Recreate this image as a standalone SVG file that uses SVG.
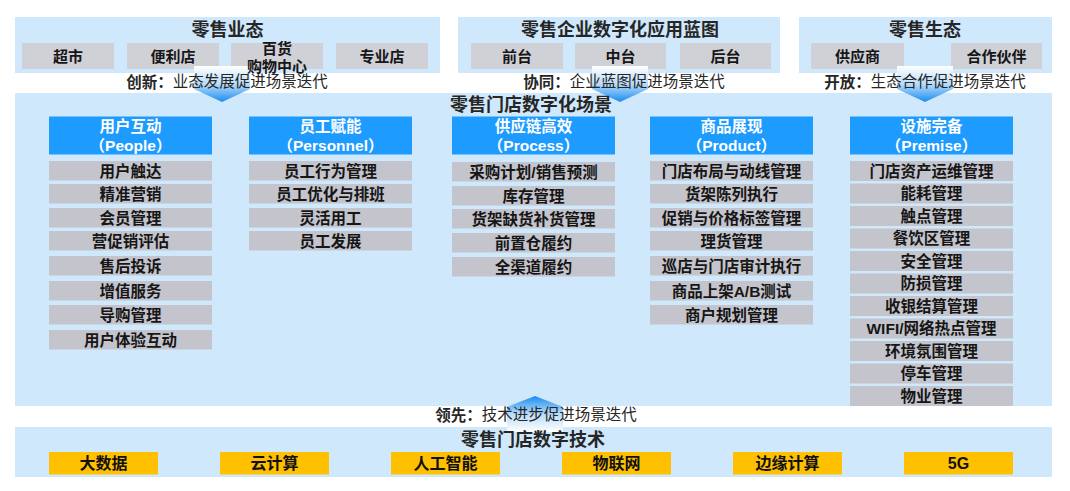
<svg xmlns="http://www.w3.org/2000/svg" width="1070" height="491" viewBox="0 0 1070 491">
<defs>
<linearGradient id="gDown" x1="0" y1="0" x2="0" y2="1">
<stop offset="0" stop-color="#FFFFFF"/>
<stop offset="0.5" stop-color="#B8DCFA"/>
<stop offset="1" stop-color="#1A8CF0"/>
</linearGradient>
<linearGradient id="gUp" x1="0" y1="1" x2="0" y2="0">
<stop offset="0" stop-color="#FFFFFF"/>
<stop offset="0.5" stop-color="#B8DCFA"/>
<stop offset="1" stop-color="#1A8CF0"/>
</linearGradient>
<style>
text{font-family:"Liberation Sans","Noto Sans CJK SC",sans-serif;dominant-baseline:central;text-anchor:middle;fill:#161616}
.panel{fill:#CFE8FB}
.sub{fill:#D0D0D7}
.item{fill:#C4C4CC}
.hdr{fill:#1E9BFF}
.yel{fill:#FFC000}
.t18{font-size:18px;font-weight:bold;fill:#262626}
.t15{font-size:15px;font-weight:bold}
.it{font-size:15.5px;font-weight:bold}
.ht{font-size:15.5px;font-weight:bold;fill:#FFFFFF}
.lab{font-size:15.5px;fill:#262626}
.lab tspan.b{font-weight:bold}
.yt{font-size:16px;font-weight:bold;fill:#111}
</style>
</defs>
<rect width="1070" height="491" fill="#FFFFFF"/>

<!-- panels -->
<g id="panel-format">
<rect class="panel" x="15" y="17" width="425" height="56"/>
<text class="t18" x="227.5" y="29.5">零售业态</text>
<rect class="sub" x="22" y="43" width="92" height="26"/>
<rect class="sub" x="127" y="43" width="92" height="26"/>
<rect class="sub" x="231" y="43" width="92" height="26"/>
<rect class="sub" x="336" y="43" width="92" height="26"/>
</g>
<g id="panel-blueprint">
<rect class="panel" x="458" y="17" width="322" height="56"/>
<text class="t18" x="620" y="29.5">零售企业数字化应用蓝图</text>
<rect class="sub" x="471" y="43" width="92" height="26"/>
<rect class="sub" x="575" y="43" width="91" height="26"/>
<rect class="sub" x="680" y="43" width="91" height="26"/>
</g>
<g id="panel-eco">
<rect class="panel" x="799" y="17" width="253" height="56"/>
<text class="t18" x="925" y="29.5">零售生态</text>
<rect class="sub" x="811" y="43" width="93" height="26"/>
<rect class="sub" x="951" y="43" width="91" height="26"/>
</g>
<g id="panel-scene">
<rect class="panel" x="15" y="93" width="1037" height="313"/>
</g>
<g id="panel-tech">
<rect class="panel" x="15" y="427" width="1037" height="50"/>
</g>

<!-- connectors (block arrows) -->
<g id="connectors">
<polygon fill="url(#gDown)" points="194,66 250,66 250,89 222,102 194,89"/>
<polygon fill="url(#gDown)" points="592,66 648,66 648,89 620,102 592,89"/>
<polygon fill="url(#gDown)" points="897,66 953,66 953,89 925,102 897,89"/>
<polygon fill="url(#gUp)" points="535,396 563,407 563,432 507,432 507,407"/>
</g>

<!-- top sub box labels -->
<g id="format-items">
<text class="t15" x="68" y="56">超市</text>
<text class="t15" x="173" y="56">便利店</text>
<text class="t15" x="277" y="48">百货</text>
<text class="t15" x="277" y="66">购物中心</text>
<text class="t15" x="382" y="56">专业店</text>
</g>
<g id="blueprint-items">
<text class="t15" x="517" y="56">前台</text>
<text class="t15" x="620.5" y="56">中台</text>
<text class="t15" x="725.5" y="56">后台</text>
</g>
<g id="eco-items">
<text class="t15" x="857.5" y="56">供应商</text>
<text class="t15" x="996.5" y="56">合作伙伴</text>
</g>

<!-- arrow labels -->
<g id="label-innovate"><text class="lab" x="227" y="81.5"><tspan class="b">创新：</tspan>业态发展促进场景迭代</text></g>
<g id="label-cooperate"><text class="lab" x="624" y="81.5"><tspan class="b">协同：</tspan>企业蓝图促进场景迭代</text></g>
<g id="label-open"><text class="lab" x="925" y="81.5"><tspan class="b">开放：</tspan>生态合作促进场景迭代</text></g>

<text class="t18" x="531" y="104.5">零售门店数字化场景</text>

<!-- column 1 -->
<g id="col-people">
<rect class="hdr" x="49" y="116.5" width="163" height="38"/>
<text class="ht" x="130.5" y="126">用户互动</text>
<text class="ht" x="130.5" y="145">（People）</text>
<rect class="item" x="49" y="161" width="163" height="19.5"/><text class="it" x="130.5" y="171">用户触达</text>
<rect class="item" x="49" y="184" width="163" height="19.5"/><text class="it" x="130.5" y="194">精准营销</text>
<rect class="item" x="49" y="208" width="163" height="19.5"/><text class="it" x="130.5" y="218">会员管理</text>
<rect class="item" x="49" y="231" width="163" height="19.5"/><text class="it" x="130.5" y="241">营促销评估</text>
<rect class="item" x="49" y="256" width="163" height="19.5"/><text class="it" x="130.5" y="266">售后投诉</text>
<rect class="item" x="49" y="281" width="163" height="19.5"/><text class="it" x="130.5" y="291">增值服务</text>
<rect class="item" x="49" y="305" width="163" height="19.5"/><text class="it" x="130.5" y="315">导购管理</text>
<rect class="item" x="49" y="330" width="163" height="19.5"/><text class="it" x="130.5" y="340">用户体验互动</text>
</g>

<!-- column 2 -->
<g id="col-personnel">
<rect class="hdr" x="249" y="116.5" width="163" height="38"/>
<text class="ht" x="330.5" y="126">员工赋能</text>
<text class="ht" x="330.5" y="145">（Personnel）</text>
<rect class="item" x="249" y="161" width="163" height="19.5"/><text class="it" x="330.5" y="171">员工行为管理</text>
<rect class="item" x="249" y="184" width="163" height="19.5"/><text class="it" x="330.5" y="194">员工优化与排班</text>
<rect class="item" x="249" y="208" width="163" height="19.5"/><text class="it" x="330.5" y="218">灵活用工</text>
<rect class="item" x="249" y="231" width="163" height="19.5"/><text class="it" x="330.5" y="241">员工发展</text>
</g>

<!-- column 3 -->
<g id="col-process">
<rect class="hdr" x="452" y="116.5" width="163" height="38"/>
<text class="ht" x="533.5" y="126">供应链高效</text>
<text class="ht" x="533.5" y="145">（Process）</text>
<rect class="item" x="452" y="162" width="163" height="19.5"/><text class="it" x="533.5" y="172">采购计划/销售预测</text>
<rect class="item" x="452" y="186" width="163" height="19.5"/><text class="it" x="533.5" y="196">库存管理</text>
<rect class="item" x="452" y="209" width="163" height="19.5"/><text class="it" x="533.5" y="219">货架缺货补货管理</text>
<rect class="item" x="452" y="233" width="163" height="19.5"/><text class="it" x="533.5" y="243">前置仓履约</text>
<rect class="item" x="452" y="257" width="163" height="19.5"/><text class="it" x="533.5" y="267">全渠道履约</text>
</g>

<!-- column 4 -->
<g id="col-product">
<rect class="hdr" x="650" y="116.5" width="163" height="38"/>
<text class="ht" x="731.5" y="126">商品展现</text>
<text class="ht" x="731.5" y="145">（Product）</text>
<rect class="item" x="650" y="161" width="163" height="19.5"/><text class="it" x="731.5" y="171">门店布局与动线管理</text>
<rect class="item" x="650" y="184" width="163" height="19.5"/><text class="it" x="731.5" y="194">货架陈列执行</text>
<rect class="item" x="650" y="208" width="163" height="19.5"/><text class="it" x="731.5" y="218">促销与价格标签管理</text>
<rect class="item" x="650" y="231" width="163" height="19.5"/><text class="it" x="731.5" y="241">理货管理</text>
<rect class="item" x="650" y="256" width="163" height="19.5"/><text class="it" x="731.5" y="266">巡店与门店审计执行</text>
<rect class="item" x="650" y="281" width="163" height="19.5"/><text class="it" x="731.5" y="291">商品上架A/B测试</text>
<rect class="item" x="650" y="305" width="163" height="19.5"/><text class="it" x="731.5" y="315">商户规划管理</text>
</g>

<!-- column 5 -->
<g id="col-premise">
<rect class="hdr" x="850" y="116.5" width="163" height="38"/>
<text class="ht" x="931.5" y="126">设施完备</text>
<text class="ht" x="931.5" y="145">（Premise）</text>
<rect class="item" x="850" y="161" width="163" height="20"/><text class="it" x="931.5" y="171">门店资产运维管理</text>
<rect class="item" x="850" y="183.5" width="163" height="20"/><text class="it" x="931.5" y="193.5">能耗管理</text>
<rect class="item" x="850" y="206" width="163" height="20"/><text class="it" x="931.5" y="216">触点管理</text>
<rect class="item" x="850" y="228.5" width="163" height="20"/><text class="it" x="931.5" y="238.5">餐饮区管理</text>
<rect class="item" x="850" y="251" width="163" height="20"/><text class="it" x="931.5" y="261">安全管理</text>
<rect class="item" x="850" y="273.5" width="163" height="20"/><text class="it" x="931.5" y="283.5">防损管理</text>
<rect class="item" x="850" y="296" width="163" height="20"/><text class="it" x="931.5" y="306">收银结算管理</text>
<rect class="item" x="850" y="318.5" width="163" height="20"/><text class="it" x="931.5" y="328.5">WIFI/网络热点管理</text>
<rect class="item" x="850" y="341" width="163" height="20"/><text class="it" x="931.5" y="351">环境氛围管理</text>
<rect class="item" x="850" y="363.5" width="163" height="20"/><text class="it" x="931.5" y="373.5">停车管理</text>
<rect class="item" x="850" y="386" width="163" height="20"/><text class="it" x="931.5" y="396">物业管理</text>
</g>

<g id="label-lead"><text class="lab" x="536" y="414.5"><tspan class="b">领先：</tspan>技术进步促进场景迭代</text></g>

<!-- technology -->
<g id="tech">
<text class="t18" x="533" y="440">零售门店数字技术</text>
<rect class="yel" x="49" y="452" width="109" height="22.5"/><text class="yt" x="103.5" y="463.5">大数据</text>
<rect class="yel" x="220" y="452" width="109" height="22.5"/><text class="yt" x="274.5" y="463.5">云计算</text>
<rect class="yel" x="391" y="452" width="109" height="22.5"/><text class="yt" x="445.5" y="463.5">人工智能</text>
<rect class="yel" x="562" y="452" width="109" height="22.5"/><text class="yt" x="616.5" y="463.5">物联网</text>
<rect class="yel" x="733" y="452" width="109" height="22.5"/><text class="yt" x="787.5" y="463.5">边缘计算</text>
<rect class="yel" x="904" y="452" width="109" height="22.5"/><text class="yt" x="958.5" y="463.5">5G</text>
</g>
</svg>
